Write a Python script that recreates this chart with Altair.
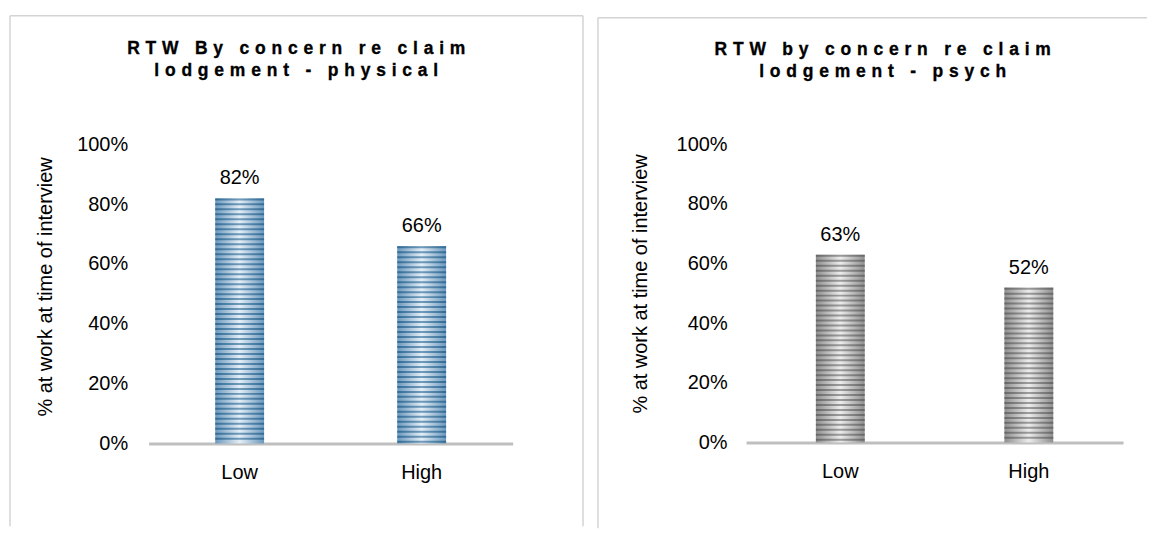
import altair as alt
import pandas as pd

# ---- data ----
categories = ["Low", "High"]
physical_values = [0.82, 0.66]
psych_values = [0.63, 0.52]
title_physical = ["RTW By concern re claim", "lodgement - physical"]
title_psych = ["RTW by concern re claim", "lodgement - psych"]
y_ticks = [0, 0.2, 0.4, 0.6, 0.8, 1.0]
y_title = "% at work at time of interview"

FONT = "Liberation Sans"
FRAME = "#d4d4d4"
GAP = "\u2004"  # imitates the wide letter spacing of the titles


def spaced(s):
    return GAP.join(s)


def grad_h(edge, center):
    return alt.LinearGradient(
        gradient="linear",
        stops=[
            alt.GradientStop(offset=0, color=edge),
            alt.GradientStop(offset=0.5, color=center),
            alt.GradientStop(offset=1, color=edge),
        ],
        x1=0, x2=1, y1=0, y2=0,
    )


def panel(values, title_lines, width, height, label_pad, title_x, title_y,
          frame_l, frame_r, frame_t, frame_b, right_edge, head_x, head_y,
          light, dark):
    df = pd.DataFrame({"category": categories, "value": values})
    one = pd.DataFrame({"k": [0]})
    base = alt.Chart(df)

    x_axis = alt.Axis(title=None, labelAngle=0, domain=True, domainColor="#bfbfbf",
                      domainWidth=3, ticks=False, labelPadding=19, labelFontSize=20,
                      labelFont=FONT, labelColor="#000000")
    y_axis = alt.Axis(values=y_ticks, format=".0%", grid=False, domain=False, ticks=False,
                      labelPadding=label_pad, labelFontSize=20, labelFont=FONT,
                      labelColor="#000000", title=y_title, titleFontSize=20,
                      titleFont=FONT, titleFontWeight="normal", titleColor="#000000",
                      titleX=title_x, titleY=title_y, titleBaseline="middle",
                      titleAlign="center")
    xs = alt.X("category:N", sort=categories,
               scale=alt.Scale(paddingInner=0, paddingOuter=0), axis=x_axis)
    ys = alt.Scale(domain=[0, 1])

    bars = base.mark_bar(size=49, color=light).encode(
        x=xs, y=alt.Y("value:Q", scale=ys, axis=y_axis))
    stripes = (
        base.transform_calculate(s="sequence(datum.value - 0.004, 0, -1/60)")
        .transform_flatten(["s"])
        .mark_tick(size=49, thickness=2, color=dark)
        .encode(x=xs, y=alt.Y("s:Q", scale=ys, axis=y_axis))
    )
    labels = base.mark_text(dy=-14, baseline="alphabetic", fontSize=20, font=FONT,
                            color="#000000").encode(
        x=xs, y=alt.Y("value:Q", scale=ys, axis=y_axis),
        text=alt.Text("value:Q", format=".0%"))

    frame = alt.Chart(one)
    layers = [
        frame.mark_rule(color=FRAME, strokeWidth=1.5).encode(
            x=alt.value(frame_l), y=alt.value(frame_t), y2=alt.value(frame_b)),
        frame.mark_rule(color=FRAME, strokeWidth=1.5).encode(
            x=alt.value(frame_l), x2=alt.value(frame_r), y=alt.value(frame_t)),
    ]
    if right_edge:
        layers.append(frame.mark_rule(color=FRAME, strokeWidth=1.5).encode(
            x=alt.value(frame_r), y=alt.value(frame_t), y2=alt.value(frame_b)))
    head = frame.mark_text(font=FONT, fontSize=17.5, fontWeight="bold", align="center",
                           baseline="top", lineHeight=22, color="#000000",
                           stroke="#000000", strokeWidth=0.35).encode(
        x=alt.value(head_x), y=alt.value(head_y),
        text=alt.value([spaced(t) for t in title_lines]))

    return alt.layer(bars, stripes, labels, *layers, head).properties(
        width=width, height=height)


blue_light = grad_h("#6a98bd", "#e4eef6")
blue_dark = grad_h("#1b5782", "#3f78a3")
gray_light = grad_h("#8e8e8e", "#ececec")
gray_dark = grad_h("#555555", "#7a7a7a")

left = panel(physical_values, title_physical, 365, 300, 21, -103, 142.5,
             -139, 435.5, -129, 383, True, 148, -104.5, blue_light, blue_dark)
right = panel(psych_values, title_psych, 378, 299, 19, -106, 139.5,
              -148.5, 402, -127, 385, False, 137, -104, gray_light, gray_dark)

chart = (
    alt.hconcat(left, right, spacing=12)
    .properties(padding={"left": 0, "top": 5, "right": 0, "bottom": 0},
                background="white")
    .configure_view(stroke="transparent")
)

chart.save("out.html", embed_options={"renderer": "svg", "actions": False})
